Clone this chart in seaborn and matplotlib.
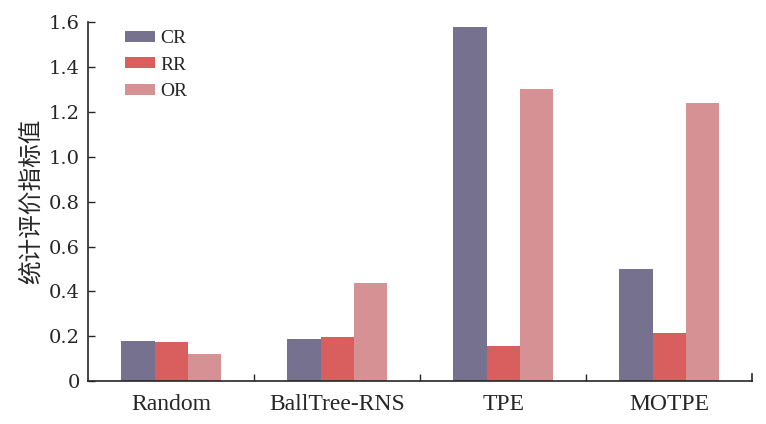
import pandas as pd
import seaborn as sns
import matplotlib.pyplot as plt

# values
methods = ['Random', 'BallTree-RNS', 'TPE', 'MOTPE']
metrics = ['CR', 'RR', 'OR']
cr_values = [0.178, 0.187, 1.578, 0.500]
rr_values = [0.174, 0.196, 0.156, 0.214]
or_values = [0.120, 0.437, 1.300, 1.239]
y_ticks = [0, 0.2, 0.4, 0.6, 0.8, 1.0, 1.2, 1.4, 1.6]
y_tick_labels = ['0', '0.2', '0.4', '0.6', '0.8', '1.0', '1.2', '1.4', '1.6']

df = pd.DataFrame({'method': methods * 3,
                   'metric': [m for m in metrics for _ in methods],
                   'value': cr_values + rr_values + or_values})

sns.set_style('ticks')
plt.rcParams['font.family'] = ['Liberation Serif', 'Noto Sans CJK SC', 'DejaVu Sans']

palette = {'CR': '#76718f', 'RR': '#d95f5e', 'OR': '#d69195'}

fig = plt.figure(figsize=(7.66, 4.24), dpi=100)
ax = fig.add_axes([0.115, 0.101, 0.867, 0.847])
sns.barplot(data=df, x='method', y='value', hue='metric', order=methods,
            hue_order=metrics, palette=palette, width=0.6, saturation=1,
            linewidth=0, ax=ax)

ax.set_ylim(0, 1.6)
ax.set_xlim(-0.5, 3.5)
ax.set_yticks(y_ticks)
ax.set_yticklabels(y_tick_labels, family=['DejaVu Serif'])
ax.set_xticks([0.5, 1.5, 2.5], minor=True)
ax.set_xticks(range(len(methods)))
ax.set_xticklabels(methods)
ax.tick_params(axis='x', which='major', length=0, labelsize=17, pad=9)
ax.tick_params(axis='x', which='minor', direction='in', length=5, width=1)
ax.tick_params(axis='y', direction='in', length=5, width=1, labelsize=14, pad=6)
ax.set_xlabel('')
ax.set_ylabel('统计评价指标值', family=['Noto Sans CJK SC'], fontsize=17, labelpad=4)
ax.spines['top'].set_visible(False)
ax.spines['left'].set_linewidth(1.2)
ax.spines['bottom'].set_linewidth(1.2)
ax.spines['right'].set_linewidth(1.2)
ax.spines['right'].set_bounds(0, 0.03)

ax.legend(loc='upper left', bbox_to_anchor=(0.0557, 0.978), frameon=False,
          fontsize=14, handlelength=1.55, handleheight=0.5, borderpad=0,
          borderaxespad=0, handletextpad=0.25, labelspacing=0.5)

fig.savefig('out.png', dpi=100)
